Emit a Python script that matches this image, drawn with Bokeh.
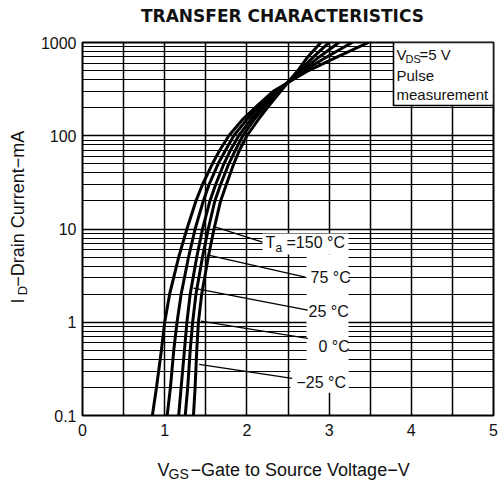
import math
from bokeh.plotting import figure
from bokeh.layouts import column, row
from bokeh.models import FixedTicker, Label, CustomJSTickFormatter, Range1d
from bokeh.embed import file_html
from bokeh.resources import INLINE

# ---------------- data ----------------
ID_MA = [0.1, 0.2, 0.5, 1, 2, 5, 10, 20, 30, 50, 70, 100, 150, 200, 300, 500, 700, 1000]
VGS_150 = [0.85, 0.90, 0.96, 1.00, 1.06, 1.17, 1.27, 1.38, 1.46, 1.58, 1.67, 1.78, 1.95, 2.10, 2.32, 2.75, 3.10, 3.48]
VGS_75 = [1.03, 1.07, 1.11, 1.15, 1.20, 1.29, 1.37, 1.47, 1.54, 1.65, 1.74, 1.84, 2.00, 2.14, 2.35, 2.70, 2.97, 3.28]
VGS_25 = [1.17, 1.20, 1.24, 1.27, 1.31, 1.39, 1.46, 1.55, 1.62, 1.72, 1.80, 1.90, 2.05, 2.18, 2.37, 2.67, 2.88, 3.12]
VGS_0 = [1.25, 1.28, 1.31, 1.34, 1.38, 1.46, 1.53, 1.61, 1.68, 1.78, 1.86, 1.95, 2.09, 2.21, 2.39, 2.64, 2.81, 3.00]
VGS_M25 = [1.35, 1.37, 1.39, 1.41, 1.45, 1.53, 1.60, 1.68, 1.75, 1.84, 1.91, 2.00, 2.14, 2.25, 2.41, 2.62, 2.74, 2.90]
CURVES = [VGS_150, VGS_75, VGS_25, VGS_0, VGS_M25]

TEMP_LABELS = ["=150 °C", "75 °C", "25 °C", "0 °C", "−25 °C"]
# leader lines (curve end -> label end), V and mA
LEADER_V0 = [1.62, 1.53, 1.35, 1.44, 1.42]
LEADER_I0 = [10.5, 5.25, 2.32, 1.03, 0.353]
LEADER_V1 = [2.19, 2.71, 2.74, 2.74, 2.55]
LEADER_I1 = [7.24, 3.05, 1.35, 0.67, 0.25]

X_TICKS = [0, 1, 2, 3, 4, 5]
Y_TICKS = [0.1, 1, 10, 100, 1000]

TITLE = "TRANSFER CHARACTERISTICS"
FONT = "Liberation Sans"
INK = "#111111"

# ---------------- layout (page pixels) ----------------
PAGE_W, PAGE_H = 500, 483
TOP_H = 30          # title strip
LEFT_W = 34         # y-label strip
ROW_H = 415         # main figure height
BOT_H = PAGE_H - TOP_H - ROW_H
FL, FR, FT, FB = 82, 493, 42, 415  # frame edges in page pixels


def dx(px):
    return (px - FL) / (FR - FL) * 5.0


def dy(py):
    return 10 ** (3 - (py - FT) / (FB - FT) * 4.0)


main_w = PAGE_W - LEFT_W
p = figure(width=main_w, height=ROW_H, x_range=(0, 5), y_range=(0.1, 1000),
           y_axis_type="log", output_backend="svg", toolbar_location=None,
           min_border_left=FL - LEFT_W, min_border_right=PAGE_W - FR,
           min_border_top=FT - TOP_H, min_border_bottom=TOP_H + ROW_H - FB)
p.background_fill_color = "white"
p.border_fill_color = "white"
p.outline_line_color = "black"
p.outline_line_width = 2

p.xaxis.ticker = FixedTicker(ticks=X_TICKS)
p.yaxis.ticker = FixedTicker(ticks=Y_TICKS,
                             minor_ticks=[m * 10 ** k for k in range(-1, 3) for m in range(2, 10)])
p.yaxis.formatter = CustomJSTickFormatter(code="return tick < 1 ? tick.toFixed(1) : tick.toFixed(0);")
p.xgrid.ticker = FixedTicker(ticks=[0.5 * i for i in range(1, 10)])

for ax in (p.xaxis[0], p.yaxis[0]):
    ax.axis_line_color = None
    ax.major_tick_in = 0
    ax.major_tick_out = 0
    ax.minor_tick_in = 0
    ax.minor_tick_out = 0
    ax.major_label_text_font = FONT
    ax.major_label_text_font_size = "16px"
    ax.major_label_text_color = INK
p.xaxis.major_label_standoff = 8
p.yaxis.major_label_standoff = 6

p.xgrid.grid_line_color = "black"
p.xgrid.grid_line_width = 1.5
p.ygrid.grid_line_color = "black"
p.ygrid.grid_line_width = 1.4
p.ygrid.minor_grid_line_color = "black"
p.ygrid.minor_grid_line_width = 1.1

# white blanks behind the temperature labels
p.quad(left=[dx(262), dx(306), dx(290)], right=[dx(348), dx(348), dx(348)],
       bottom=[dy(254), dy(392), dy(392)], top=[dy(233), dy(254), dy(370)],
       fill_color="white", line_color=None)
# condition box
p.quad(left=[dx(393)], right=[5.0], bottom=[dy(105)], top=[1000],
       fill_color="white", line_color="black", line_width=1.6)

# curves
for v in CURVES:
    p.line(v, ID_MA, line_color="black", line_width=3, line_join="round")

# leader lines
p.segment(x0=LEADER_V0, y0=LEADER_I0, x1=LEADER_V1, y1=LEADER_I1,
          line_color="black", line_width=1.3)


def lab(fig, x, y, text, size, angle=0.0, align="left", font=FONT, style="normal"):
    fig.add_layout(Label(x=x, y=y, text=text, text_font=font,
                         text_font_size=size, text_align=align,
                         text_baseline="middle", angle=angle,
                         text_color=INK, text_font_style=style))


def plab(text, px, py, size):
    lab(p, dx(px), dy(py), text, size)


# temperature labels (left edge, visual middle)
plab("T", 265, 242, "16px")
plab("a", 275, 247, "12px")
plab(TEMP_LABELS[0], 286, 242, "16px")
plab(TEMP_LABELS[1], 310, 277, "16px")
plab(TEMP_LABELS[2], 308, 311, "16px")
plab(TEMP_LABELS[3], 318, 346, "16px")
plab(TEMP_LABELS[4], 296, 382, "16px")

# condition text
plab("V", 396, 54, "15px")
plab("DS", 405, 58, "11px")
plab("=5 V", 419, 54, "15px")
plab("Pulse", 396, 75, "15px")
plab("measurement", 396, 94, "15px")


def strip(w, h):
    f = figure(width=w, height=h, x_range=Range1d(0, w), y_range=Range1d(h, 0),
               output_backend="svg", toolbar_location=None, min_border=0,
               x_axis_location=None, y_axis_location=None)
    f.xgrid.visible = False
    f.ygrid.visible = False
    f.outline_line_color = None
    f.background_fill_color = "white"
    f.border_fill_color = "white"
    return f


# title strip
top = strip(PAGE_W, TOP_H)
lab(top, 282, 15.5, TITLE, "17px", align="center", font="DejaVu Sans", style="bold")

# y-label strip (rotated text, page y offset TOP_H)
left = strip(LEFT_W, ROW_H)
lab(left, 17.5, 317.5 - TOP_H, "I", "18px", angle=math.pi / 2, align="center")
lab(left, 21.5, 306 - TOP_H, "D", "13px", angle=math.pi / 2, align="center")
lab(left, 17.5, 215 - TOP_H, "−Drain Current−mA", "18px", angle=math.pi / 2, align="center")

# x-label strip (page y offset TOP_H + ROW_H)
oy = TOP_H + ROW_H
bot = strip(PAGE_W, BOT_H)
lab(bot, 157, 469 - oy, "V", "18px")
lab(bot, 168, 473 - oy, "GS", "14px")
lab(bot, 190, 469 - oy, "−Gate to Source Voltage−V", "18px")

layout = column(top, row(left, p, spacing=0), bot, spacing=0)
open("out.html", "w").write(file_html(layout, INLINE))
